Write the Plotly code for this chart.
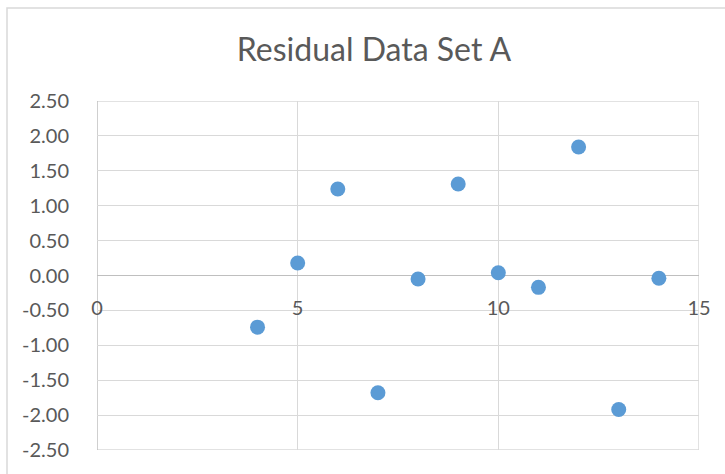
import plotly.graph_objects as go

# Residuals of data set A against its least-squares line
x_vals = [4, 5, 6, 7, 8, 9, 10, 11, 12, 13, 14]
residuals = [-0.74, 0.18, 1.24, -1.68, -0.05, 1.31, 0.04, -0.17, 1.84, -1.92, -0.04]

x_ticks = [0, 5, 10, 15]
y_ticks = [2.5, 2.0, 1.5, 1.0, 0.5, 0.0, -0.5, -1.0, -1.5, -2.0, -2.5]
y_tick_text = [f"{v:.2f}" for v in y_ticks]

W, H = 725, 474
L, R, T, B = 97, 26, 101, 24

fig = go.Figure(
    go.Scatter(
        x=x_vals,
        y=residuals,
        mode="markers",
        marker=dict(size=15, color="#5b9bd5"),
        hoverinfo="x+y",
    )
)

text_font = "Lato, 'Open Sans', sans-serif"
grid = "#d9d9d9"
axis = "#bfbfbf"

fig.update_layout(
    width=W,
    height=H,
    margin=dict(l=L, r=R, t=T, b=B),
    paper_bgcolor="white",
    plot_bgcolor="white",
    showlegend=False,
    title=dict(
        text="Residual Data Set A",
        x=(374) / W,
        xanchor="center",
        y=1 - 50 / H,
        yanchor="middle",
        font=dict(family=text_font, size=32, color="#595959"),
    ),
    xaxis=dict(
        range=[0, 15],
        tickvals=x_ticks,
        ticktext=[str(v) for v in x_ticks],
        showgrid=True,
        gridcolor=grid,
        gridwidth=1,
        zeroline=False,
        showline=False,
        anchor="free",
        position=0.5,
        ticks="",
        ticklabelstandoff=18,
        tickfont=dict(family=text_font, size=20, color="#595959"),
    ),
    yaxis=dict(
        range=[-2.5, 2.5],
        tickvals=y_ticks,
        ticktext=y_tick_text,
        showgrid=True,
        gridcolor=grid,
        gridwidth=1,
        zeroline=True,
        zerolinecolor=axis,
        zerolinewidth=1,
        showline=False,
        ticks="",
        ticklabelstandoff=27,
        tickfont=dict(family=text_font, size=20, color="#595959"),
    ),
)

pw = W - L - R
ph = H - T - B
# outer chart frame (left and top edges fall inside the page)
fig.add_shape(
    type="rect",
    xref="paper", yref="paper",
    x0=(7 - L) / pw, x1=(W + 20 - L) / pw,
    y0=-(H + 20 - T - ph) / ph, y1=(H - B - 8) / ph,
    line=dict(color=grid, width=1.5),
    fillcolor="rgba(0,0,0,0)",
    layer="below",
)
# gridlines that sit on the edges of the plotting area
for yv in (y_ticks[0], y_ticks[-1]):
    fig.add_shape(
        type="line", xref="x", yref="y",
        x0=x_ticks[0], x1=x_ticks[-1], y0=yv, y1=yv,
        line=dict(color=grid, width=1.5),
        layer="below",
    )
fig.add_shape(
    type="line", xref="x", yref="y",
    x0=x_ticks[-1], x1=x_ticks[-1], y0=y_ticks[-1], y1=y_ticks[0],
    line=dict(color=grid, width=1.5),
    layer="below",
)
# vertical axis line at x = 0
fig.add_shape(
    type="line", xref="x", yref="y",
    x0=0, x1=0, y0=y_ticks[-1], y1=y_ticks[0],
    line=dict(color=axis, width=1.5),
    layer="below",
)

fig.write_html("out.html")
